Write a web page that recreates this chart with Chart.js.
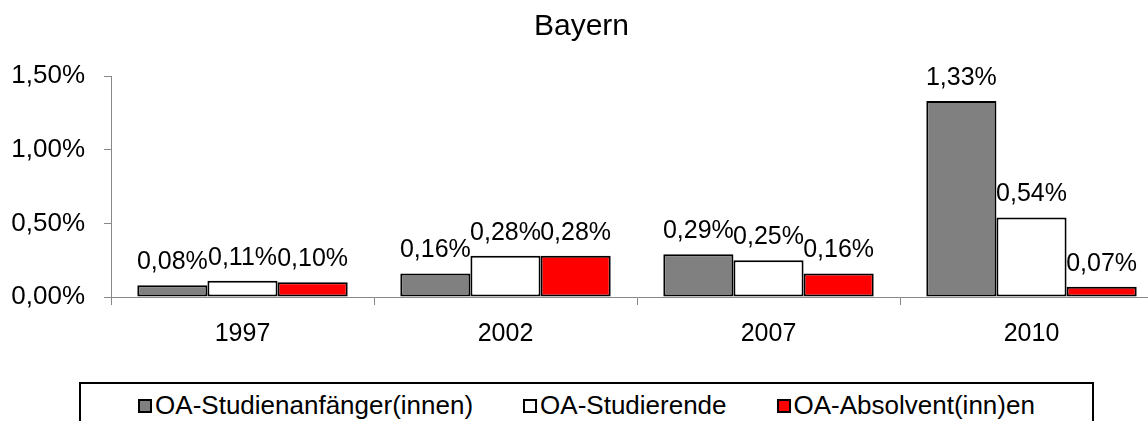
<!DOCTYPE html>
<html>
<head>
<meta charset="utf-8">
<script src="https://cdn.jsdelivr.net/npm/chart.js@4/dist/chart.umd.min.js"></script>
<style>
  html, body { margin: 0; padding: 0; background: #fff; overflow: hidden; }
  #wrap { position: relative; width: 1148px; height: 421px; overflow: hidden; }
  #c { position: absolute; left: 0; top: 0; }
  #legend {
    position: absolute; left: 79px; top: 382px; width: 1015px; height: 60px;
    box-sizing: border-box; border: 2px solid #000; background: #fff;
    display: flex; justify-content: center; align-items: flex-start; gap: 50px;
    padding-top: 6px; font-family: "Liberation Sans", Arial, sans-serif; font-size: 26px; color: #000;
  }
  .item { display: flex; align-items: center; white-space: nowrap; line-height: 30px; }
  .mk { width: 14px; height: 14px; box-sizing: border-box; border: 2px solid #000; margin-right: 3px; margin-top: 2px; }
</style>
</head>
<body>
<div id="wrap">
  <canvas id="c" width="1174" height="421"></canvas>
  <div id="legend"></div>
</div>
<script>
const chartTitle = 'Bayern';
const categories = ['1997', '2002', '2007', '2010'];
const seriesNames = ['OA-Studienanfänger(innen)', 'OA-Studierende', 'OA-Absolvent(inn)en'];
const studienanfaenger = [0.08, 0.16, 0.29, 1.33];
const studierende = [0.11, 0.28, 0.25, 0.54];
const absolventen = [0.10, 0.28, 0.16, 0.07];
const yTicks = [0, 0.5, 1.0, 1.5];
const seriesColors = ['#808080', '#FFFFFF', '#FF0000'];

const fmt = v => v.toFixed(2).replace('.', ',') + '%';
Chart.defaults.font.family = '"Liberation Sans", Arial, sans-serif';
Chart.defaults.color = '#000';

const dataLabels = {
  id: 'dataLabels',
  afterDatasetsDraw(chart) {
    const ctx = chart.ctx;
    ctx.save();
    ctx.font = '25px "Liberation Sans", Arial, sans-serif';
    ctx.fillStyle = '#000';
    ctx.textAlign = 'center';
    ctx.textBaseline = 'alphabetic';
    chart.data.datasets.forEach((ds, i) => {
      chart.getDatasetMeta(i).data.forEach((bar, j) => {
        ctx.fillText(fmt(ds.data[j]), bar.x, bar.y - 16);
      });
    });
    ctx.restore();
  }
};

const seriesData = [studienanfaenger, studierende, absolventen];
const chart = new Chart(document.getElementById('c'), {
  type: 'bar',
  data: {
    labels: categories,
    datasets: seriesNames.map((name, i) => ({
      label: name,
      data: seriesData[i],
      backgroundColor: seriesColors[i],
      borderColor: '#000',
      borderWidth: 2,
      borderSkipped: false,
      barPercentage: 1.0,
      categoryPercentage: 0.8
    }))
  },
  options: {
    responsive: false,
    animation: false,
    layout: { padding: { left: 0, right: 11, top: 0, bottom: 0 } },
    plugins: {
      legend: { display: false },
      tooltip: { enabled: false },
      title: {
        display: true, text: chartTitle, color: '#000',
        font: { size: 30, weight: 'normal' },
        padding: { top: 9, bottom: 31 }
      }
    },
    scales: {
      x: {
        offset: true,
        grid: { offset: true, drawOnChartArea: false, drawTicks: true, tickLength: 8, color: '#888' },
        border: { color: '#888', width: 1 },
        ticks: { font: { size: 25 }, color: '#000', padding: 14 },
        afterFit: s => { s.height = 124; }
      },
      y: {
        min: 0, max: 1.5,
        afterBuildTicks: s => { s.ticks = yTicks.map(v => ({ value: v })); },
        grid: { drawOnChartArea: false, drawTicks: true, tickLength: 7, color: '#888' },
        border: { color: '#888', width: 1 },
        ticks: { font: { size: 26 }, color: '#000', padding: 19, callback: v => fmt(v) },
        afterFit: s => { s.width = 111; }
      }
    }
  },
  plugins: [dataLabels]
});

const legendEl = document.getElementById('legend');
chart.data.datasets.forEach(ds => {
  const it = document.createElement('div');
  it.className = 'item';
  const mk = document.createElement('span');
  mk.className = 'mk';
  mk.style.background = ds.backgroundColor;
  const tx = document.createElement('span');
  tx.textContent = ds.label;
  it.appendChild(mk); it.appendChild(tx);
  legendEl.appendChild(it);
});
</script>
</body>
</html>
